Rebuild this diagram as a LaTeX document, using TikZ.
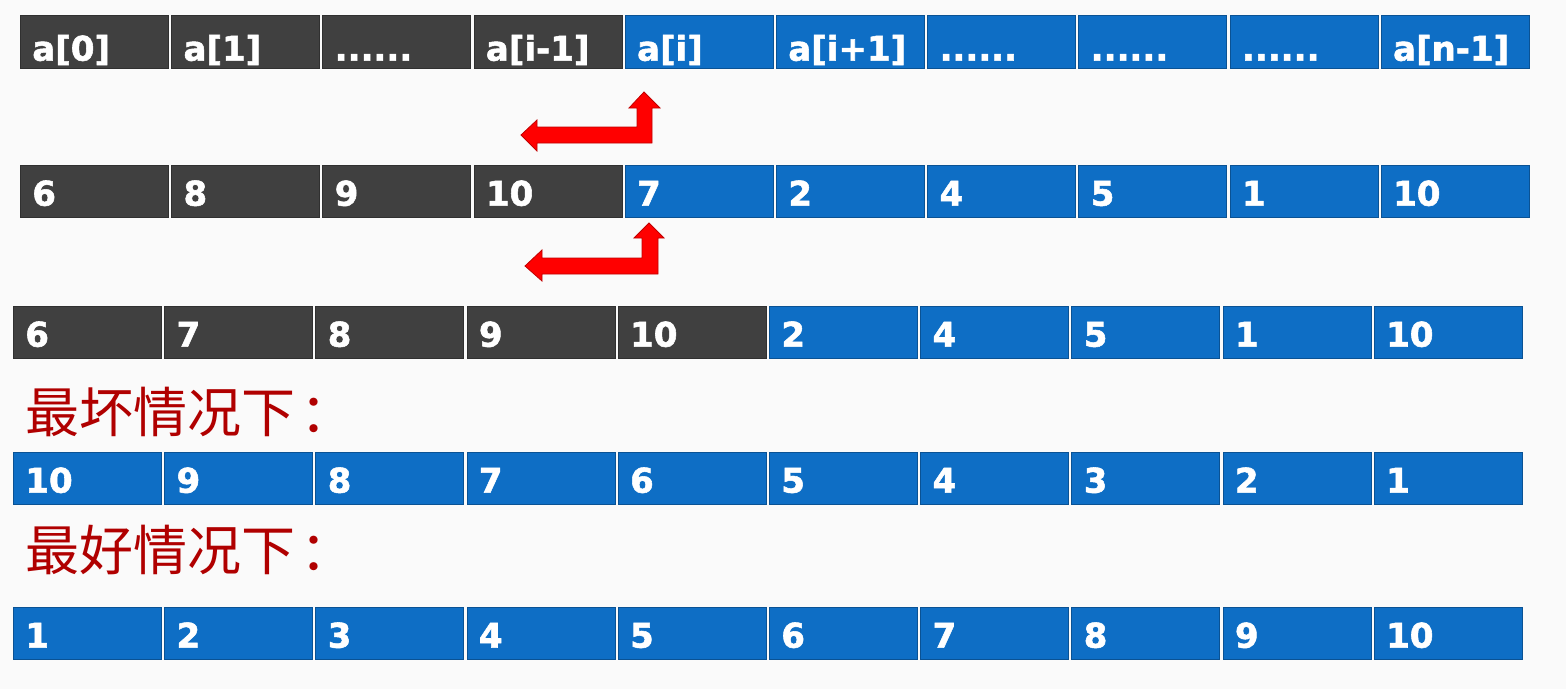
\documentclass[tikz,border=0pt]{standalone}
\usepackage{fontspec}
\newfontfamily\cellfont{DejaVu Sans}[BoldFeatures={FakeBold=1.6}]
\newfontfamily\cjk{Noto Sans CJK SC}
\definecolor{cgray}{HTML}{404040}
\definecolor{cblue}{HTML}{0E6EC5}
\definecolor{cred}{HTML}{B00000}
\definecolor{arrowred}{HTML}{FF0000}
\definecolor{arrowedge}{HTML}{C00000}
\definecolor{bg}{HTML}{FAFAFA}
\newcommand{\sixdots}{......}
\begin{document}
\begin{tikzpicture}[x=1pt,y=-1pt,
  cell/.style={rectangle, anchor=south west, inner xsep=12pt, inner ysep=0pt,
    text width=124pt, align=left, text=white,
    font=\cellfont\bfseries\fontsize{34}{34}\selectfont,
    draw=#1!75!black, fill=#1, line width=0.7pt},
  toprow/.style={text height=45pt, text depth=8pt},
  otherrow/.style={text height=40pt, text depth=12pt},
  label/.style={anchor=west, inner sep=0pt, text=cred, font=\cjk\fontsize{54}{54}\selectfont},
  swaparrow/.style={fill=arrowred, draw=arrowedge, line width=0.8pt, line join=miter}]
\fill[bg] (0,0) rectangle (1566,689);
\useasboundingbox (0,0) rectangle (1566,689);
% row 1
\foreach \t [count=\i] in {a[0],a[1],\sixdots,a[i-1],a[i],a[i+1],\sixdots,\sixdots,\sixdots,a[n-1]} {
  \def\cc{cblue}\ifnum\i<5 \def\cc{cgray}\fi
  \node[cell=\cc, toprow] (r1-\i) at ({20+(\i-1)*151.2},69) {\t};
}
% row 2
\foreach \t [count=\i] in {6,8,9,10,7,2,4,5,1,10} {
  \def\cc{cblue}\ifnum\i<5 \def\cc{cgray}\fi
  \node[cell=\cc, otherrow] (r2-\i) at ({20+(\i-1)*151.2},218) {\t};
}
% row 3
\foreach \t [count=\i] in {6,7,8,9,10,2,4,5,1,10} {
  \def\cc{cblue}\ifnum\i<6 \def\cc{cgray}\fi
  \node[cell=\cc, otherrow] (r3-\i) at ({13+(\i-1)*151.2},359) {\t};
}
% row 4
\foreach \t [count=\i] in {10,9,8,7,6,5,4,3,2,1} {
  \node[cell=cblue, otherrow] (r4-\i) at ({13+(\i-1)*151.2},505) {\t};
}
% row 5
\foreach \t [count=\i] in {1,2,3,4,5,6,7,8,9,10} {
  \node[cell=cblue, otherrow] (r5-\i) at ({13+(\i-1)*151.2},660) {\t};
}
% labels
\node[label] (worst) at (25,412) {最坏情况下\hspace{5pt}：};
\node[label] (best) at (25,550) {最好情况下\hspace{5pt}：};
% swap arrows
\draw[swaparrow] (644,92) -- (660,108) -- (652,108) -- (652,143) -- (537,143)
  -- (537,151) -- (521,135) -- (537,120) -- (537,127) -- (637,127) -- (637,108)
  -- (629,108) -- cycle;
\draw[swaparrow] (649,223) -- (664,238) -- (658,238) -- (658,274) -- (542,274)
  -- (542,281) -- (525,266) -- (542,250) -- (542,258) -- (642,258) -- (642,238)
  -- (634,238) -- cycle;
\end{tikzpicture}
\end{document}
